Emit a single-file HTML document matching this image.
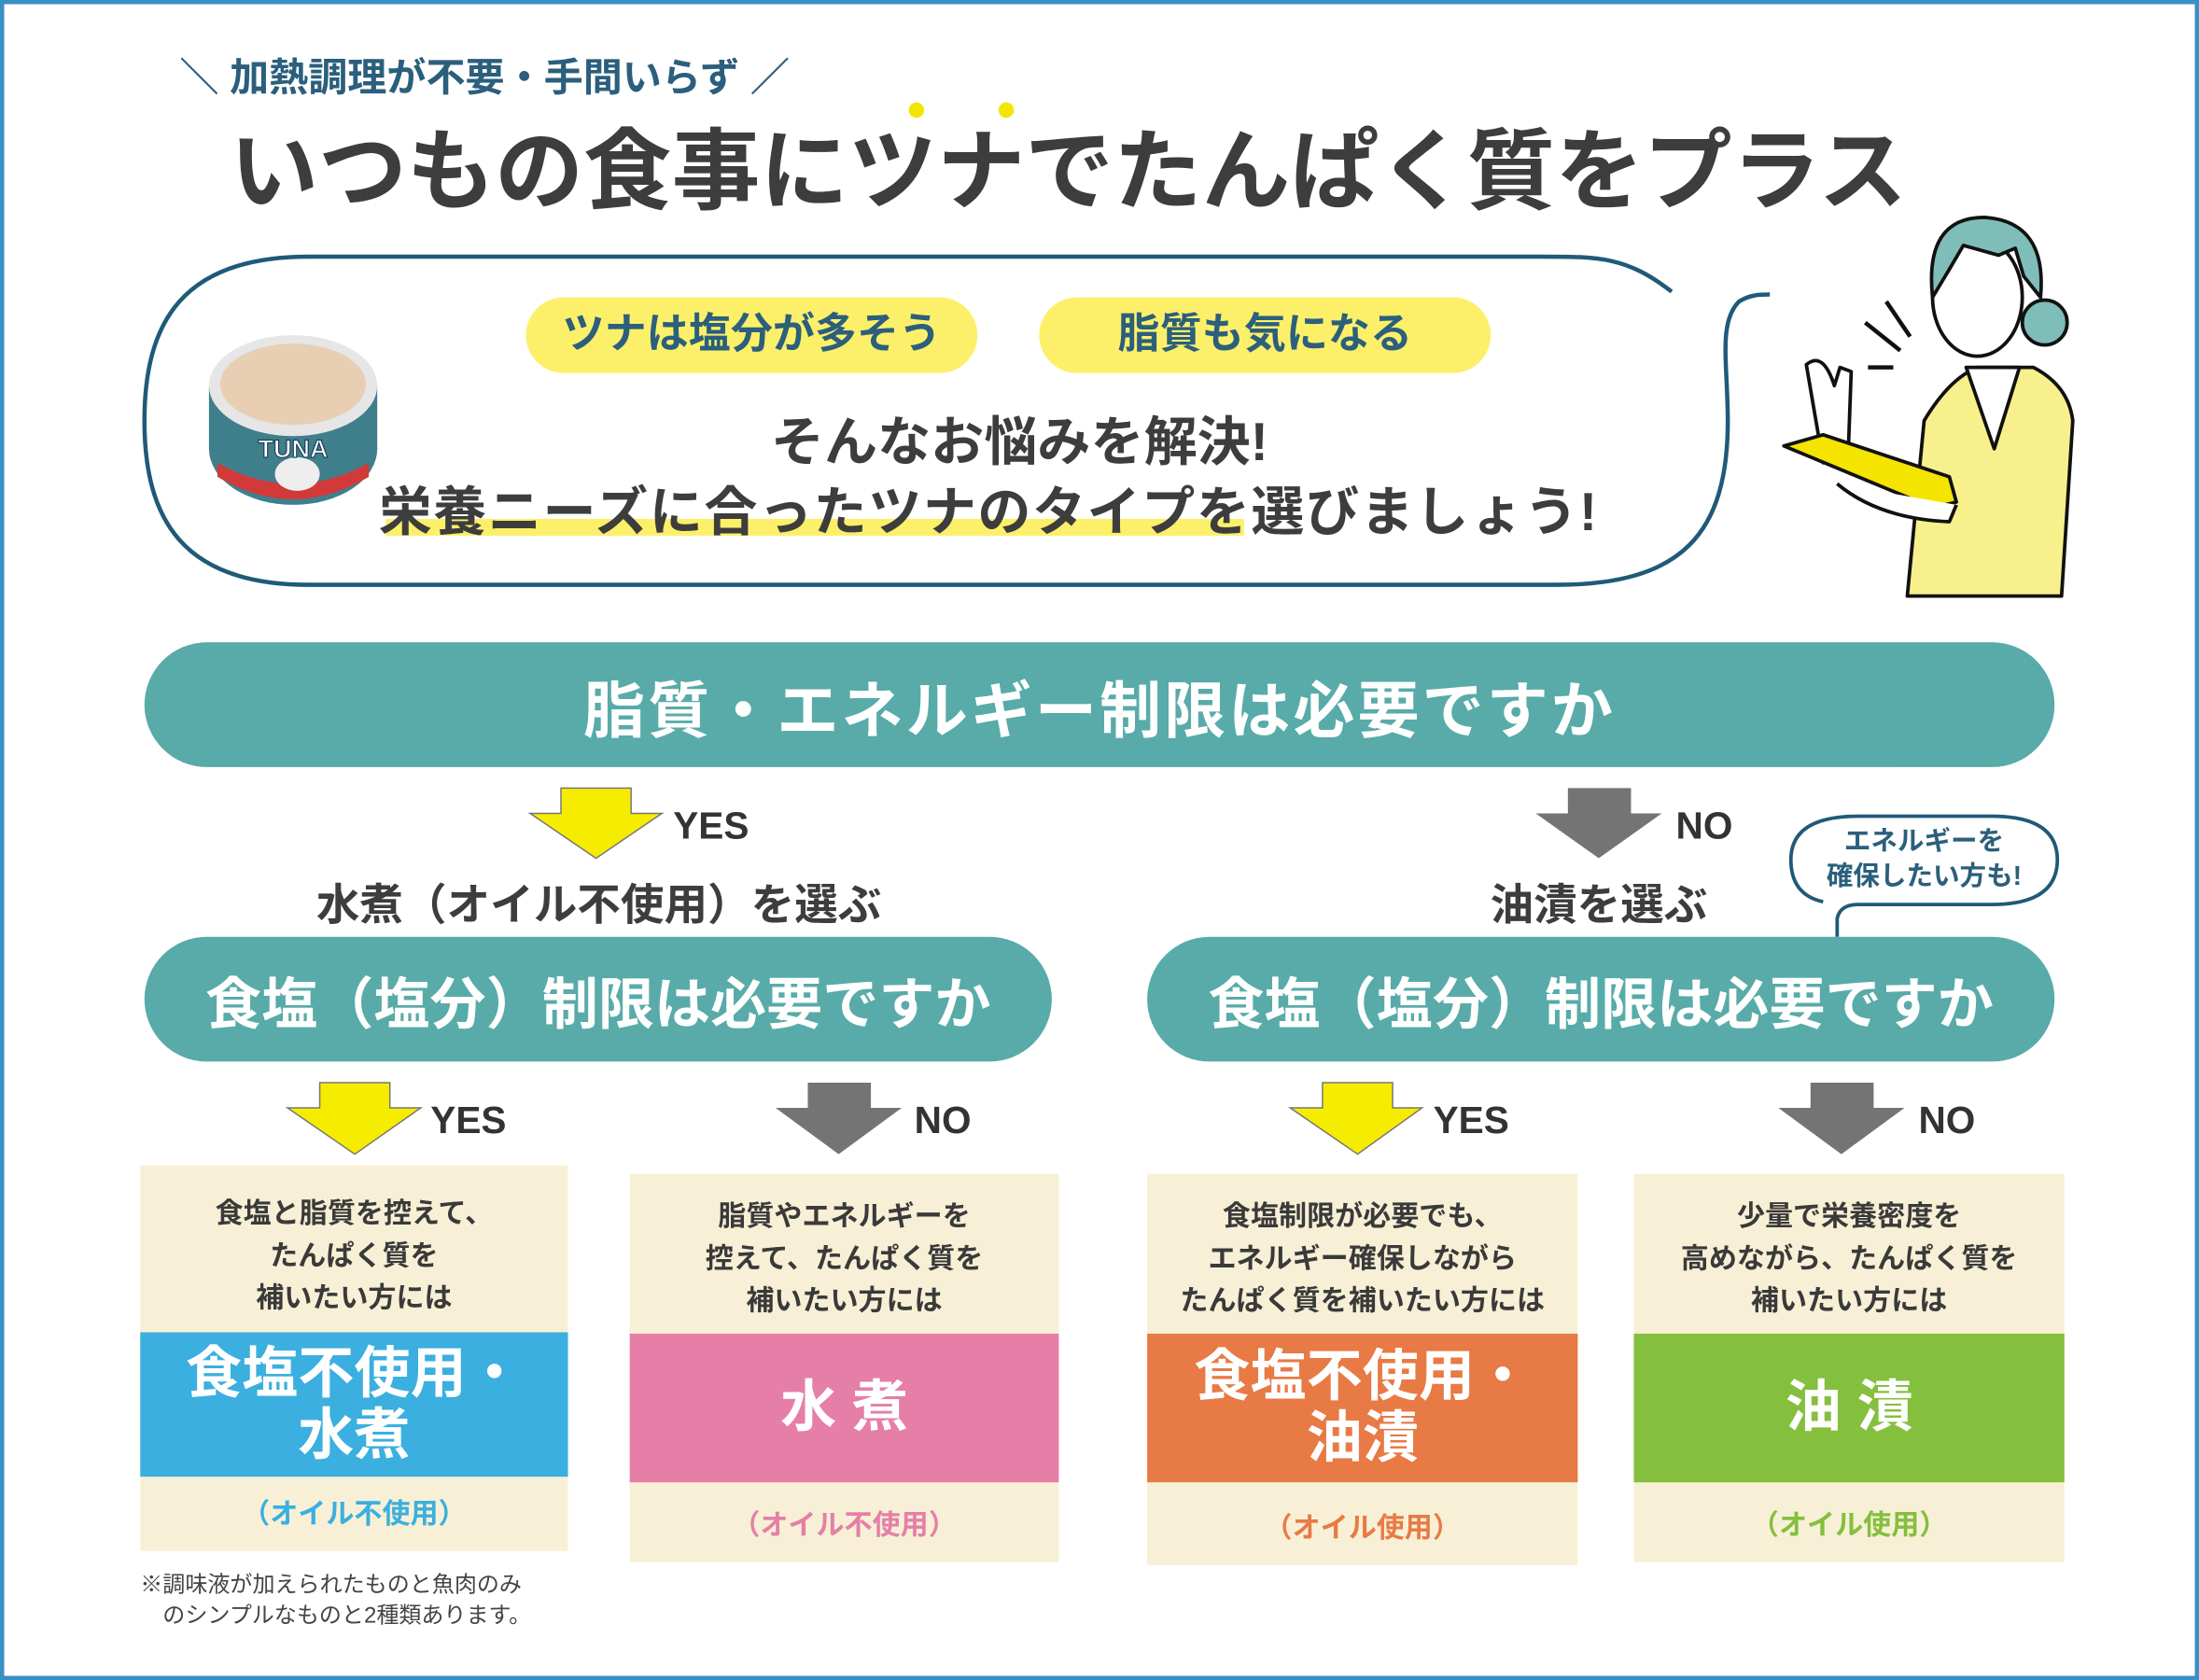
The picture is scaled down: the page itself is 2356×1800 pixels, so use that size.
<!DOCTYPE html>
<html><head><meta charset="utf-8"><style>
html,body{margin:0;padding:0;background:#fff;}
body{width:2356px;height:1800px;overflow:hidden;position:relative;}
#s{position:absolute;left:0;top:0;width:1568px;height:1198px;transform:scale(1.50255);transform-origin:0 0;font-family:"Liberation Sans","Noto Sans CJK JP",sans-serif;font-weight:bold;}
.a{position:absolute;white-space:nowrap;}
.c{text-align:center;}
.pill{position:absolute;background:#58aba8;color:#fff;border-radius:46px;display:flex;align-items:center;justify-content:center;}
.card{position:absolute;background:#f8f0d6;}
.card .t{position:absolute;left:0;right:0;top:16px;text-align:center;font-size:20px;line-height:30px;color:#3a3a3a;}
.card .m{position:absolute;left:0;right:0;color:#fff;display:flex;align-items:center;justify-content:center;text-align:center;font-size:40px;line-height:44px;}
.card .b{position:absolute;left:0;right:0;bottom:14px;text-align:center;font-size:20px;}
</style></head><body><div id="s">
<div style="position:absolute;left:0;top:0;width:1562px;height:1192px;border:3px solid #3a8fc4;"></div>

<div class="a" style="left:128px;top:34px;font-size:28px;color:#2b5f7c;">＼ 加熱調理が不要・手間いらず ／</div>
<div class="a" style="left:164px;top:72px;font-size:63px;color:#3d3d3d;letter-spacing:0px;">いつもの食事にツナでたんぱく質をプラス</div>
<div class="a" style="left:648px;top:73px;width:11px;height:11px;border-radius:6px;background:#f2e600"></div>
<div class="a" style="left:712px;top:73px;width:11px;height:11px;border-radius:6px;background:#f2e600"></div>

<svg class="a" style="left:0;top:0" width="1568" height="1198">
<path d="M1192,208 C1160,183 1140,183 1100,183 L220,183 C130,183 103,230 103,300 C103,370 130,417 220,417 L1110,417 C1200,417 1232,380 1232,300 C1232,260 1225,230 1240,215 C1248,210 1255,210 1262,210" fill="none" stroke="#1f5a78" stroke-width="3"/>
<ellipse cx="209" cy="320" rx="60" ry="40" fill="#3f7f8c"/>
<rect x="149" y="275" width="120" height="45" fill="#3f7f8c"/>
<path d="M155,330 Q209,360 263,330 L263,340 Q209,372 155,340Z" fill="#d23a3a"/>
<ellipse cx="209" cy="275" rx="60" ry="36" fill="#e6e6e6"/>
<ellipse cx="209" cy="274" rx="52" ry="29" fill="#e8cfb3"/>
<ellipse cx="212" cy="338" rx="16" ry="12" fill="#eee"/>
<text x="209" y="326" font-size="18" text-anchor="middle" fill="#fff" font-family="Liberation Sans" font-weight="bold" stroke="#1e3e5a" stroke-width="0.8">TUNA</text>
<g stroke="#111" stroke-width="2.5" stroke-linejoin="round">
<path d="M1360,425 L1372,300 Q1390,270 1410,262 L1450,262 Q1475,275 1478,300 L1470,425Z" fill="#f7f08c"/>
<path d="M1402,262 L1422,320 L1440,262Z" fill="#fff"/>
<ellipse cx="1410" cy="212" rx="32" ry="42" fill="#fff"/>
<path d="M1378,212 Q1372,155 1415,155 Q1460,158 1455,212 L1443,197 L1437,177 L1425,182 L1400,175 L1390,192Z" fill="#7fbdb8"/>
<circle cx="1458" cy="230" r="16" fill="#7fbdb8"/>
<path d="M1288,260 Q1300,250 1308,275 L1312,262 L1320,265 L1318,320 L1300,330Z" fill="#fff"/>
<path d="M1272,318 L1300,310 L1390,340 L1395,358 L1378,362Z" fill="#f4e400"/>
<path d="M1310,345 Q1340,370 1390,372 L1395,360" fill="#fff"/>
</g>
<path d="M1345,215 L1362,240 M1330,230 L1355,250 M1332,262 L1350,262" stroke="#111" stroke-width="3"/>
<path d="M1310,668 L1310,655 Q1312,645 1325,645 L1420,645 Q1467,645 1467,613 Q1467,582 1420,582 L1325,582 Q1277,582 1277,613 Q1277,638 1300,643" fill="none" stroke="#1f5a78" stroke-width="2.5"/>
<g stroke="#777" stroke-width="1">
<path d="M400,562 L450,562 L450,580 L472,580 L425,612 L378,580 L400,580Z" fill="#f6ec00"/>
<path d="M228,772 L278,772 L278,790 L300,790 L253,823 L205,790 L228,790Z" fill="#f6ec00"/>
<path d="M943,772 L993,772 L993,790 L1014,790 L968,823 L920,790 L943,790Z" fill="#f6ec00"/>
</g>
<path d="M1118,562 L1163,562 L1163,580 L1185,580 L1140,612 L1095,580 L1118,580Z" fill="#747474"/>
<path d="M576,772 L621,772 L621,790 L643,790 L598,823 L553,790 L576,790Z" fill="#747474"/>
<path d="M1291,772 L1336,772 L1336,790 L1358,790 L1313,823 L1268,790 L1291,790Z" fill="#747474"/>
</svg>

<div class="a c" style="left:375px;top:212px;width:322px;height:54px;line-height:54px;border-radius:27px;background:#fcf06a;color:#2b5f7c;font-size:30px;">ツナは塩分が多そう</div>
<div class="a c" style="left:741px;top:212px;width:322px;height:54px;line-height:54px;border-radius:27px;background:#fcf06a;color:#2b5f7c;font-size:30px;">脂質も気になる</div>
<div class="a" style="left:275px;top:370px;width:612px;height:12px;background:#fcf06a;"></div>
<div class="a c" style="left:400px;top:284px;width:654px;font-size:38px;color:#3d3d3d;">そんなお悩みを解決!</div>
<div class="a" style="left:270px;top:334px;font-size:38px;color:#3d3d3d;letter-spacing:1px;">栄養ニーズに合ったツナのタイプを選びましょう!</div>

<div class="pill" style="left:103px;top:458px;width:1362px;height:89px;font-size:44px;letter-spacing:2px;">脂質・エネルギー制限は必要ですか</div>

<div class="a" style="left:480px;top:574px;font-size:27px;color:#333;">YES</div>
<div class="a" style="left:1195px;top:574px;font-size:27px;color:#333;">NO</div>
<div class="a c" style="left:177px;top:620px;width:500px;font-size:31px;color:#3d3d3d;">水煮（オイル不使用）を選ぶ</div>
<div class="a c" style="left:1000px;top:620px;width:280px;font-size:31px;color:#3d3d3d;">油漬を選ぶ</div>
<div class="a c" style="left:1280px;top:588px;width:184px;font-size:19px;line-height:25px;color:#2b5f7c;">エネルギーを<br>確保したい方も!</div>

<div class="pill" style="left:103px;top:668px;width:647px;height:89px;font-size:40px;">食塩（塩分）制限は必要ですか</div>
<div class="pill" style="left:818px;top:668px;width:647px;height:89px;font-size:40px;">食塩（塩分）制限は必要ですか</div>

<div class="a" style="left:307px;top:784px;font-size:27px;color:#333;">YES</div>
<div class="a" style="left:652px;top:784px;font-size:27px;color:#333;">NO</div>
<div class="a" style="left:1022px;top:784px;font-size:27px;color:#333;">YES</div>
<div class="a" style="left:1368px;top:784px;font-size:27px;color:#333;">NO</div>

<div class="card" style="left:100px;top:831px;width:305px;height:275px;">
<div class="t" style="top:20px">食塩と脂質を控えて、<br>たんぱく質を<br>補いたい方には</div>
<div class="m" style="top:119px;height:103px;background:#3bafdf;">食塩不使用・<br>水煮</div>
<div class="b" style="color:#3bafdf">（オイル不使用）</div></div>
<div class="card" style="left:449px;top:837px;width:306px;height:277px;">
<div class="t">脂質やエネルギーを<br>控えて、たんぱく質を<br>補いたい方には</div>
<div class="m" style="top:114px;height:106px;background:#e57fa8;">水 煮</div>
<div class="b" style="color:#e57fa8">（オイル不使用）</div></div>
<div class="card" style="left:818px;top:837px;width:307px;height:279px;">
<div class="t">食塩制限が必要でも、<br>エネルギー確保しながら<br>たんぱく質を補いたい方には</div>
<div class="m" style="top:114px;height:106px;background:#e87a45;">食塩不使用・<br>油漬</div>
<div class="b" style="color:#e87a45">（オイル使用）</div></div>
<div class="card" style="left:1165px;top:837px;width:307px;height:277px;">
<div class="t">少量で栄養密度を<br>高めながら、たんぱく質を<br>補いたい方には</div>
<div class="m" style="top:114px;height:106px;background:#84bf3e;">油 漬</div>
<div class="b" style="color:#84bf3e">（オイル使用）</div></div>

<div class="a" style="left:100px;top:1120px;font-size:16px;line-height:22px;color:#444;font-weight:normal;">※調味液が加えられたものと魚肉のみ<br>　のシンプルなものと2種類あります。</div>
</div></body></html>
